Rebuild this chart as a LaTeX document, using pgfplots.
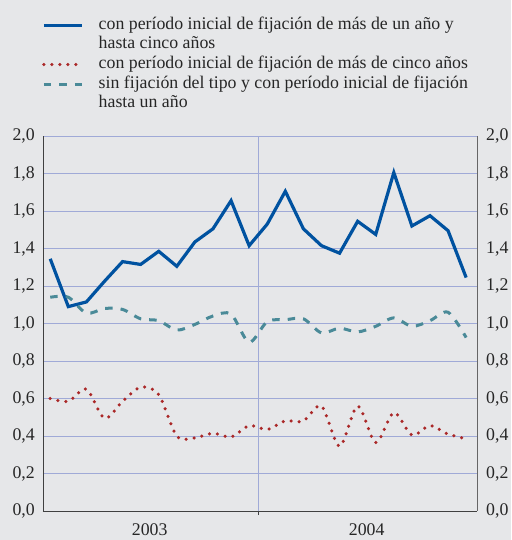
\documentclass[border=0pt]{standalone}
\usepackage{fontspec}
\setmainfont{Liberation Serif}
\usepackage{pgfplots}
\pgfplotsset{compat=1.18}
\definecolor{bg}{RGB}{230,231,233}
\definecolor{gridc}{RGB}{160,170,215}
\definecolor{cblue}{RGB}{0,82,160}
\definecolor{cred}{RGB}{170,40,40}
\definecolor{cteal}{RGB}{74,138,152}
\begin{document}
\begin{tikzpicture}
\fill[bg] (-43pt,-29pt) rectangle (468pt,511pt);
\useasboundingbox (-43pt,-29pt) rectangle (468pt,511pt);
\begin{axis}[
  at={(0pt,0pt)}, anchor=south west,
  scale only axis, width=434pt, height=375pt,
  xmin=-0.4, xmax=23.6, ymin=0, ymax=2,
  axis x line*=bottom, axis y line*=left,
  axis line style={-, draw=black!75, line width=0.9pt},
  ytick={0,0.2,0.4,0.6,0.8,1.0,1.2,1.4,1.6,1.8,2.0},
  ymajorgrids, grid style={gridc, line width=0.8pt},
  xtick={5.5,17.5}, xticklabels={2003,2004},
  major tick length=0pt,
  extra x ticks={11.5}, extra x tick labels={},
  extra x tick style={grid=major, major tick length=4pt, tick align=outside, tick style={black!75, line width=1pt}},
  /pgf/number format/assume math mode=true,
  yticklabel style={/pgf/number format/fixed, /pgf/number format/fixed zerofill, /pgf/number format/precision=1, /pgf/number format/use comma, xshift=-8pt},
  xticklabel style={yshift=-12pt},
  tick label style={font=\fontsize{17.8}{20}\selectfont, inner sep=0pt, text=black!85},
  legend style={at={(axis description cs:-0.0023,1.317)}, anchor=north west, draw=none, fill=none, inner sep=0pt, row sep=3.6pt, column sep=15pt, font=\fontsize{17.8}{18.6}\selectfont, text=black!85, nodes={inner sep=0pt, text height=12pt, text depth=4pt}},
  legend cell align=left,
  legend image code/.code={\draw[#1] (0pt,0pt) -- (38pt,0pt);},
]
\addplot[cblue, line width=3.2pt] coordinates {
(0,1.345) (1,1.09) (2,1.115) (3,1.225) (4,1.33) (5,1.315) (6,1.385) (7,1.305) (8,1.435) (9,1.505) (10,1.655) (11,1.415)
(12,1.53) (13,1.705) (14,1.505) (15,1.415) (16,1.375) (17,1.545) (18,1.475) (19,1.805) (20,1.52) (21,1.575) (22,1.495) (23,1.245)};
\addlegendentry{con período inicial de fijación de más de un año y}
\addlegendimage{empty legend}
\addlegendentry{hasta cinco años}
\addplot[cred, line width=3.5pt, line cap=round, dash pattern=on 0pt off 8pt, smooth] coordinates {
(0,0.60) (1,0.585) (2,0.65) (3,0.495) (4,0.585) (5,0.66) (6,0.62) (7,0.40) (8,0.39) (9,0.415) (10,0.395) (11,0.455)
(12,0.435) (13,0.48) (14,0.48) (15,0.56) (16,0.345) (17,0.56) (18,0.365) (19,0.525) (20,0.405) (21,0.455) (22,0.41) (23,0.385)};
\addlegendentry{con período inicial de fijación de más de cinco años}
\addplot[cteal, line width=3pt, dash pattern=on 7.5pt off 8pt, smooth] coordinates {
(0,1.14) (1,1.14) (2,1.055) (3,1.08) (4,1.075) (5,1.025) (6,1.015) (7,0.965) (8,0.995) (9,1.04) (10,1.05) (11,0.90)
(12,1.01) (13,1.02) (14,1.025) (15,0.95) (16,0.975) (17,0.955) (18,0.985) (19,1.03) (20,0.985) (21,1.015) (22,1.06) (23,0.925)};
\addlegendentry{sin fijación del tipo y con período inicial de fijación}
\addlegendimage{empty legend}
\addlegendentry{hasta un año}
\draw[white, line width=1pt] ([xshift=-1.8pt]rel axis cs:0,0) -- ([xshift=-1.8pt]rel axis cs:0,1);
\end{axis}
\begin{axis}[
  at={(0pt,0pt)}, anchor=south west,
  scale only axis, width=434pt, height=375pt,
  xmin=-0.4, xmax=23.6, ymin=0, ymax=2,
  axis x line=none, axis y line*=right,
  axis line style={-, draw=black!60, line width=0.9pt},
  ytick={0,0.2,0.4,0.6,0.8,1.0,1.2,1.4,1.6,1.8,2.0},
  major tick length=0pt,
  /pgf/number format/assume math mode=true,
  yticklabel style={/pgf/number format/fixed, /pgf/number format/fixed zerofill, /pgf/number format/precision=1, /pgf/number format/use comma, xshift=9pt},
  tick label style={font=\fontsize{17.8}{20}\selectfont, inner sep=0pt, text=black!85},
]
\end{axis}
\end{tikzpicture}
\end{document}
